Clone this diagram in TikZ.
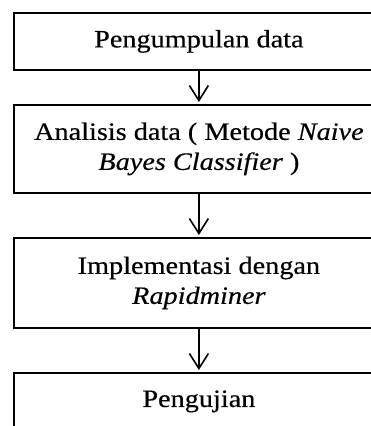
\documentclass[tikz,border=0pt]{standalone}
\usepackage{fontspec}
\setmainfont{Liberation Serif}[FakeStretch=1.13, FakeBold=0.4]
\usepackage{tikz}
\usetikzlibrary{arrows.meta,positioning}

\begin{document}
\begin{tikzpicture}[x=1pt, y=-1pt,
    stage/.style={draw, line width=1.8pt, rectangle, anchor=north west,
        minimum width=370pt, align=center, inner sep=0pt,
        font=\fontsize{25}{30}\selectfont},
    flow/.style={line width=1.6pt, -{Straight Barb[length=15pt, width=19pt, line width=1.6pt]}, shorten >=2pt}]
    % the page ends at the right and bottom of the last box
    \clip (0,0) rectangle (371,426);

    % Stages
    \node[stage, minimum height=57pt] (collect) at (13,12) {Pengumpulan data};
    \node[stage, minimum height=88pt] (analysis) at (13,104) {Analisis data ( Metode \textit{Naive}\\ \textit{Bayes Classifier} )};
    \node[stage, minimum height=90pt] (implement) at (13,237) {Implementasi dengan\\ \textit{Rapidminer}};
    \node[stage, minimum height=57pt] (testing) at (13,372) {Pengujian};

    % Arrows
    \draw[flow] (collect) -- (analysis);
    \draw[flow] (analysis) -- (implement);
    \draw[flow] (implement) -- (testing);
\end{tikzpicture}
\end{document}
